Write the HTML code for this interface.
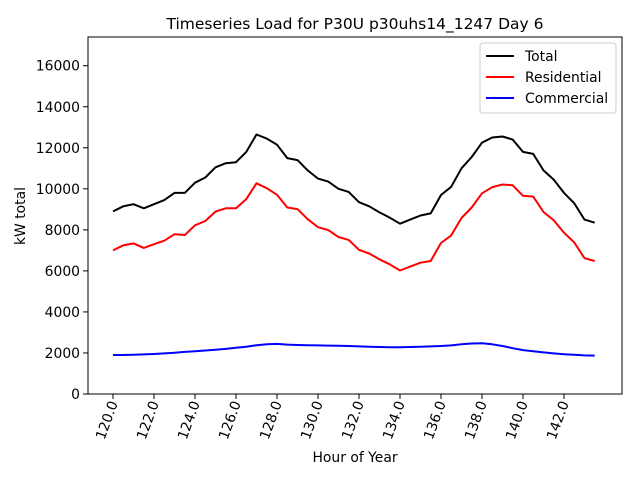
<!DOCTYPE html>
<html><head><meta charset="utf-8"><style>
body{margin:0;background:#fff}
svg{font-family:"DejaVu Sans","Liberation Sans",sans-serif}
</style></head><body>
<svg id="c" width="640" height="480" viewBox="0 0 640 480"></svg>
<script>
const hours=[];for(let i=0;i<48;i++)hours.push(120+i*0.5);
const totalLoad=[8900,9150,9250,9050,9250,9450,9800,9800,10300,10550,11050,11250,11300,11800,12650,12450,12150,11500,11400,10900,10500,10350,10000,9850,9350,9150,8850,8600,8300,8500,8700,8800,9700,10100,11000,11550,12250,12500,12550,12400,11800,11700,10900,10450,9800,9300,8500,8350];
const residentialLoad=[7000,7250,7340,7120,7300,7470,7790,7750,8220,8430,8890,9050,9050,9500,10270,10030,9710,9090,9010,8520,8130,7990,7650,7510,7030,6850,6560,6320,6020,6210,6400,6480,7360,7730,8580,9090,9780,10080,10210,10170,9660,9620,8870,8470,7860,7390,6620,6480];
const commercialLoad=[1900,1900,1910,1930,1950,1980,2010,2050,2080,2120,2160,2200,2250,2300,2380,2420,2440,2410,2390,2380,2370,2360,2350,2340,2320,2300,2290,2280,2280,2290,2300,2320,2340,2370,2420,2460,2470,2420,2340,2230,2140,2080,2030,1980,1940,1910,1880,1870];
const xTicks=[120,122,124,126,128,130,132,134,136,138,140,142];
const yTicks=[0,2000,4000,6000,8000,10000,12000,14000,16000];
const L=88,R=622,T=37,B=394;
const xMin=118.78,xMax=144.83,yMin=0,yMax=17400;
const X=v=>L+(v-xMin)/(xMax-xMin)*(R-L);
const Y=v=>B-(v-yMin)/(yMax-yMin)*(B-T);
const svg=document.getElementById('c');const NS='http://www.w3.org/2000/svg';
function mk(t,a,txt){const e=document.createElementNS(NS,t);for(const k in a)e.setAttribute(k,a[k]);if(txt!==undefined)e.textContent=txt;svg.appendChild(e);return e;}
let e;
e=mk('rect',{x:L,y:T,width:R-L,height:B-T,fill:'#fff',stroke:'#000','stroke-width':1});


xTicks.forEach(t=>{const x=X(t);
 e=mk('line',{x1:x,y1:B,x2:x,y2:B+5,stroke:'#000'});
 
 
 e=mk('text',{x:x+5,y:B+9,'font-size':13.9,'text-anchor':'end',transform:`rotate(-70 ${x+5} ${B+9})`},t.toFixed(1));
 
 
});
yTicks.forEach(t=>{const y=Y(t);
 e=mk('line',{x1:L-5,y1:y,x2:L,y2:y,stroke:'#000'});
 
 
 e=mk('text',{x:L-8,y:y+5,'font-size':13.9,'text-anchor':'end'},String(t));
 
 
});
function line(vals,color,name){
 const d=vals.map((v,i)=>(i?'L':'M')+X(hours[i]).toFixed(1)+' '+Y(v).toFixed(1)).join(' ');
 const p=mk('path',{d:d,fill:'none',stroke:color,'stroke-width':2,'stroke-linejoin':'round'});
 
 
}
line(totalLoad,'#000','total-line');
line(residentialLoad,'#ff0000','residential-line');
line(commercialLoad,'#0000ff','commercial-line');
e=mk('text',{x:355,y:29,'font-size':15.5,'text-anchor':'middle'},'Timeseries Load for P30U p30uhs14_1247  Day 6');


e=mk('text',{x:355,y:462,'font-size':13.9,'text-anchor':'middle'},'Hour of Year');


e=mk('text',{x:25,y:216,'font-size':13.9,'text-anchor':'middle',transform:'rotate(-90 25 216)'},'kW total');


e=mk('rect',{x:480,y:43,width:136,height:70,rx:3,fill:'#fff',stroke:'#ccc'});


[['Total','#000'],['Residential','#ff0000'],['Commercial','#0000ff']].forEach((s,i)=>{const y=56+i*21;
 e=mk('line',{x1:486,y1:y,x2:514,y2:y,stroke:s[1],'stroke-width':2});
 
 
 e=mk('text',{x:525,y:y+5,'font-size':13.9},s[0]);
 
 
});
</script>
</body></html>
